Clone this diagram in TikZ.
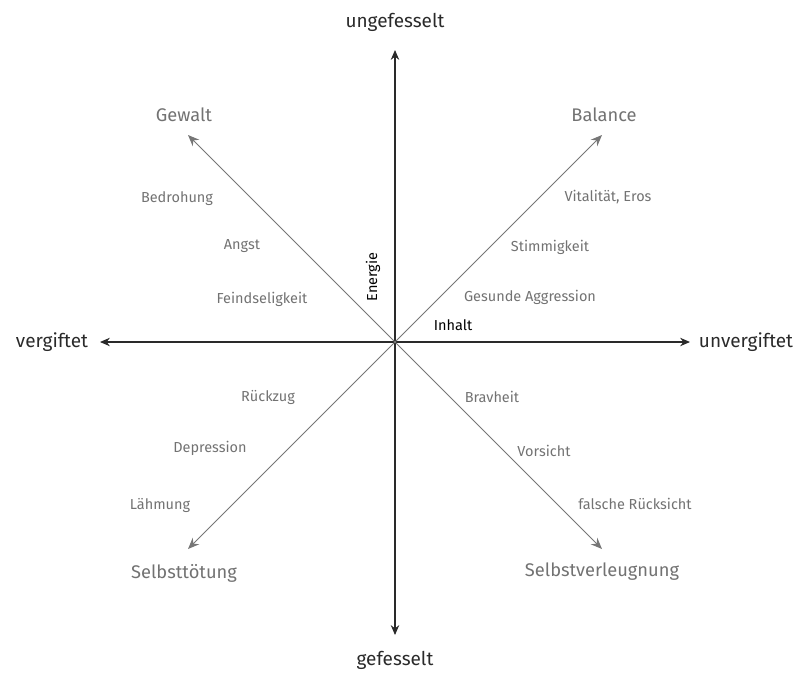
\documentclass[tikz,border=0pt]{standalone}
\usepackage{fontspec}
\setmainfont{Fira Sans}
\usetikzlibrary{arrows.meta}
\definecolor{axisgray}{HTML}{2A2A2A}
\definecolor{diaggray}{HTML}{767676}
\definecolor{labelgray}{HTML}{727272}

\begin{document}
\begin{tikzpicture}[
                    x=0.025cm, y=-0.025cm,
                    axis/.style={draw=axisgray, line width=0.8pt, {Stealth[length=7pt,width=6pt]}-{Stealth[length=7pt,width=6pt]}},
                    diag/.style={draw=diaggray, line width=0.7pt, -{Stealth[length=8pt,width=6.5pt]}},
                    pole/.style={text=axisgray, font=\fontsize{13.5}{15}\selectfont},
                    goal/.style={text=labelgray, font=\fontsize{13}{15}\selectfont},
                    stage/.style={text=labelgray, font=\fontsize{10.3}{12}\selectfont},
                    dim/.style={text=black, font=\fontsize{10.3}{12}\selectfont}
                ]
                    \useasboundingbox (0,0) rectangle (797,672);
                    \coordinate (O) at (395,342);
                    \coordinate (N) at (395,50);
                    \coordinate (S) at (395,635);
                    \coordinate (W) at (100,342);
                    \coordinate (E) at (690,342);
                    \coordinate (NE) at (602,135);
                    \coordinate (NW) at (188,135);
                    \coordinate (SW) at (188,549);
                    \coordinate (SE) at (602,549);
                    % axes
                    \draw[axis] (S) -- (N);
                    \draw[axis] (W) -- (E);
                    \draw[diag] (O) -- (NE);
                    \draw[diag] (O) -- (NW);
                    \draw[diag] (O) -- (SW);
                    \draw[diag] (O) -- (SE);
                    % poles
                    \node[pole] (up) at (395,22) {ungefesselt};
                    \node[pole] (down) at (395,660) {gefesselt};
                    \node[pole] (left) at (52,342) {vergiftet};
                    \node[pole] (right) at (746,342) {unvergiftet};
                    \node[goal] (gewalt) at (184,115) {Gewalt};
                    \node[goal] (balance) at (604,115) {Balance};
                    \node[goal] (tod) at (184,573) {Selbsttötung};
                    \node[goal] (verleugnung) at (602,572) {Selbstverleugnung};
                    % stages
                    \node[stage] (bedrohung) at (177,199) {Bedrohung};
                    \node[stage] (angst) at (242,246) {Angst};
                    \node[stage] (feind) at (262,299) {Feindseligkeit};
                    \node[stage] (vital) at (608,197) {Vitalität, Eros};
                    \node[stage] (stimmig) at (550,247) {Stimmigkeit};
                    \node[stage] (aggr) at (530,297) {Gesunde Aggression};
                    \node[stage] (rueckzug) at (268,397) {Rückzug};
                    \node[stage] (depr) at (210,448) {Depression};
                    \node[stage] (laehm) at (160,505) {Lähmung};
                    \node[stage] (brav) at (492,397) {Bravheit};
                    \node[stage] (vorsicht) at (544,451) {Vorsicht};
                    \node[stage] (falsch) at (635,504) {falsche Rücksicht};
                    % dimensions
                    \node[dim] (inhalt) at (453,325) {Inhalt};
                    \node[dim, rotate=90] (energie) at (373,277) {Energie};
                \end{tikzpicture}
\end{document}
